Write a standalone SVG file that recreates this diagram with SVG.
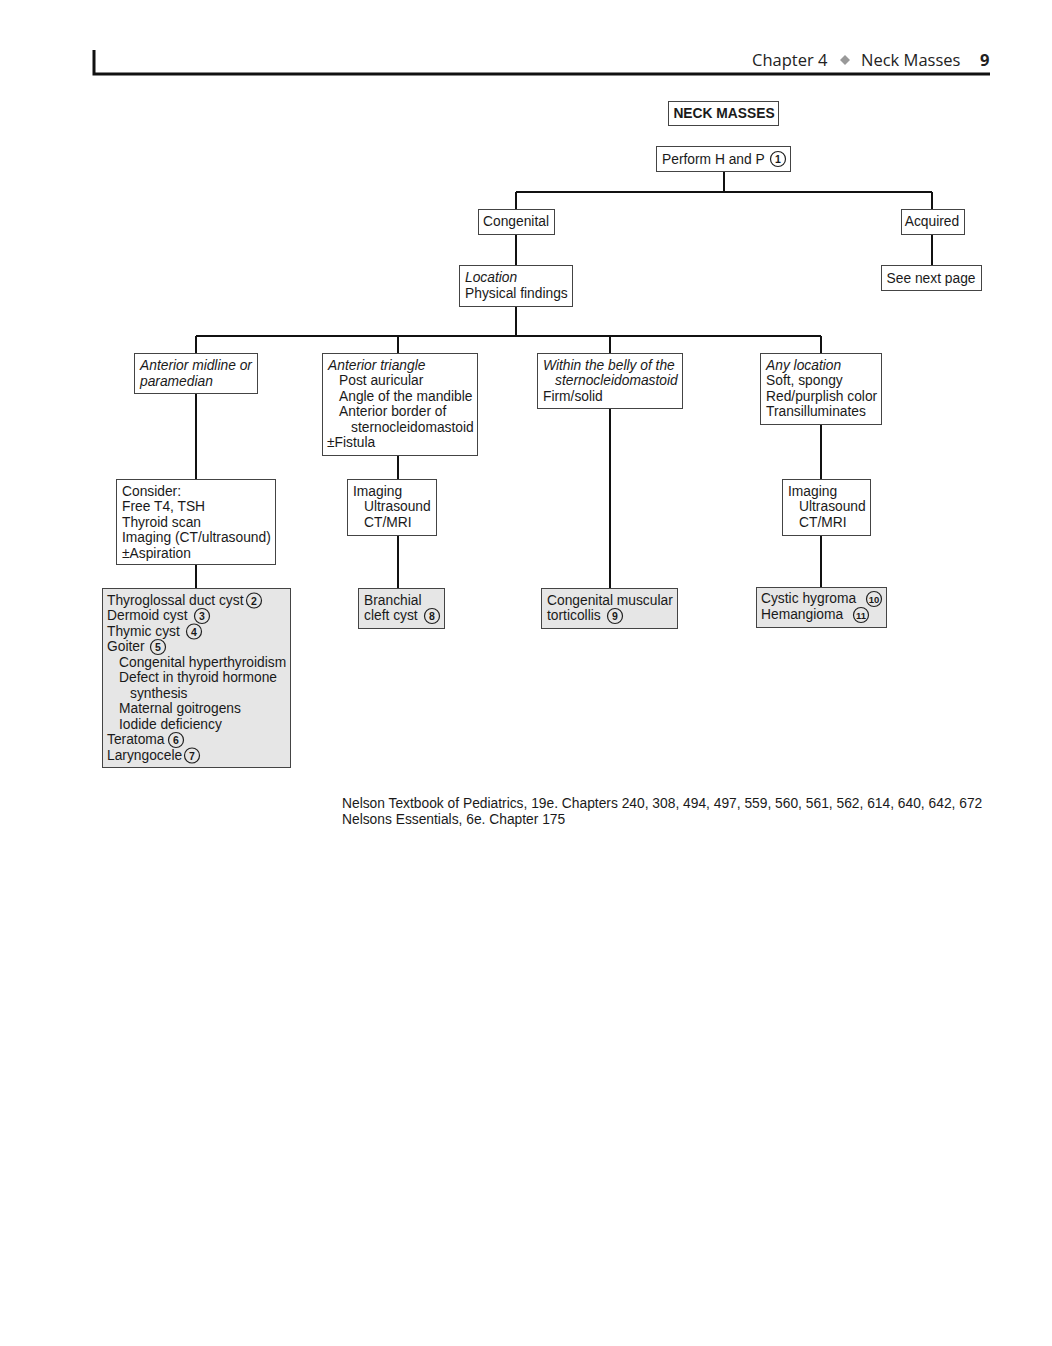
<svg xmlns="http://www.w3.org/2000/svg" width="1052" height="1346" viewBox="0 0 1052 1346">
<style>
text{font-family:"Liberation Sans",Arial,sans-serif;font-size:13.8px;fill:#1a1a1a}
.i{font-style:italic}
.b{font-weight:bold}
.box{fill:#fff;stroke:#444;stroke-width:1}
.gbox{fill:#e6e6e6;stroke:#444;stroke-width:1}
.ln{fill:none;stroke:#111;stroke-width:2}
.c{fill:none;stroke:#222;stroke-width:1.2}
.cn{font-size:10.5px;font-weight:bold;text-anchor:middle}
.hd{font-family:"Open Sans","DejaVu Sans",sans-serif;font-size:16.5px;fill:#222}
</style>
<rect width="1052" height="1346" fill="#fff"/>
<g id="header">
<path d="M94 50V74H990" fill="none" stroke="#111" stroke-width="3"/>
<text class="hd" x="752" y="66">Chapter 4</text>
<path d="M845 55l5 5-5 5-5-5z" fill="#999"/>
<text class="hd" x="861" y="66">Neck Masses</text>
<text class="hd b" x="980" y="66">9</text>
</g>
<g id="connectors">
<path class="ln" d="M724 172V192M516 192H932M516 192V209M932 192V209M516 234V265M932 234V265M516 306V336M196 336H821M196 336V353M398 336V353M610 336V353M821 336V353M196 393V479M196 564V588M398 455V479M398 535V588M610 408V588M821 424V479M821 535V587"/>
</g>
<g id="n-neck-masses">
<rect class="box" x="668.5" y="101.5" width="110" height="24"/>
<text class="b" x="724" y="118" text-anchor="middle">NECK MASSES</text>
</g>
<g id="n-perform">
<rect class="box" x="656.5" y="146.5" width="134" height="25"/>
<text x="662" y="164">Perform H and P</text>
<circle class="c" cx="778" cy="159" r="7.5"/><text class="cn" x="778" y="163">1</text>
</g>
<g id="n-congenital">
<rect class="box" x="478.5" y="209.5" width="76" height="25"/>
<text x="516" y="226" text-anchor="middle">Congenital</text>
</g>
<g id="n-acquired">
<rect class="box" x="901.5" y="209.5" width="63" height="25"/>
<text x="932" y="226" text-anchor="middle">Acquired</text>
</g>
<g id="n-location">
<rect class="box" x="459.5" y="265.5" width="113" height="41"/>
<text class="i" x="465" y="282">Location</text>
<text x="465" y="298">Physical findings</text>
</g>
<g id="n-see-next">
<rect class="box" x="881.5" y="265.5" width="100" height="25"/>
<text x="931" y="283" text-anchor="middle">See next page</text>
</g>
<g id="n-anterior-midline">
<rect class="box" x="134.5" y="353.5" width="123" height="40"/>
<text class="i" x="140" y="370">Anterior midline or</text>
<text class="i" x="140" y="386">paramedian</text>
</g>
<g id="n-anterior-triangle">
<rect class="box" x="322.5" y="353.5" width="155" height="102"/>
<text class="i" x="328" y="370">Anterior triangle</text>
<text x="339" y="385">Post auricular</text>
<text x="339" y="401">Angle of the mandible</text>
<text x="339" y="416">Anterior border of</text>
<text x="351" y="432">sternocleidomastoid</text>
<text x="327" y="447">±Fistula</text>
</g>
<g id="n-belly">
<rect class="box" x="537.5" y="353.5" width="145" height="55"/>
<text class="i" x="543" y="370">Within the belly of the</text>
<text class="i" x="555" y="385">sternocleidomastoid</text>
<text x="543" y="401">Firm/solid</text>
</g>
<g id="n-any-location">
<rect class="box" x="760.5" y="353.5" width="121" height="71"/>
<text class="i" x="766" y="370">Any location</text>
<text x="766" y="385">Soft, spongy</text>
<text x="766" y="401">Red/purplish color</text>
<text x="766" y="416">Transilluminates</text>
</g>
<g id="n-consider">
<rect class="box" x="116.5" y="479.5" width="159" height="85"/>
<text x="122" y="496">Consider:</text>
<text x="122" y="511">Free T4, TSH</text>
<text x="122" y="527">Thyroid scan</text>
<text x="122" y="542">Imaging (CT/ultrasound)</text>
<text x="122" y="558">±Aspiration</text>
</g>
<g id="n-imaging-1">
<rect class="box" x="347.5" y="479.5" width="89" height="56"/>
<text x="353" y="496">Imaging</text>
<text x="364" y="511">Ultrasound</text>
<text x="364" y="527">CT/MRI</text>
</g>
<g id="n-imaging-2">
<rect class="box" x="782.5" y="479.5" width="88" height="56"/>
<text x="788" y="496">Imaging</text>
<text x="799" y="511">Ultrasound</text>
<text x="799" y="527">CT/MRI</text>
</g>
<g id="n-midline-dx">
<rect class="gbox" x="102.5" y="588.5" width="188" height="179"/>
<text x="107" y="605">Thyroglossal duct cyst</text>
<circle class="c" cx="254" cy="600.5" r="7.5"/><text class="cn" x="254" y="604.5">2</text>
<text x="107" y="620">Dermoid cyst</text>
<circle class="c" cx="202" cy="616" r="7.5"/><text class="cn" x="202" y="620">3</text>
<text x="107" y="636">Thymic cyst</text>
<circle class="c" cx="194" cy="631.5" r="7.5"/><text class="cn" x="194" y="635.5">4</text>
<text x="107" y="651">Goiter</text>
<circle class="c" cx="158" cy="647" r="7.5"/><text class="cn" x="158" y="651">5</text>
<text x="119" y="667">Congenital hyperthyroidism</text>
<text x="119" y="682">Defect in thyroid hormone</text>
<text x="130" y="698">synthesis</text>
<text x="119" y="713">Maternal goitrogens</text>
<text x="119" y="729">Iodide deficiency</text>
<text x="107" y="744">Teratoma</text>
<circle class="c" cx="176" cy="740" r="7.5"/><text class="cn" x="176" y="744">6</text>
<text x="107" y="760">Laryngocele</text>
<circle class="c" cx="192" cy="755.5" r="7.5"/><text class="cn" x="192" y="759.5">7</text>
</g>
<g id="n-branchial">
<rect class="gbox" x="358.5" y="588.5" width="86" height="40"/>
<text x="364" y="605">Branchial</text>
<text x="364" y="620">cleft cyst</text>
<circle class="c" cx="432" cy="616" r="7.5"/><text class="cn" x="432" y="620">8</text>
</g>
<g id="n-torticollis">
<rect class="gbox" x="541.5" y="588.5" width="136" height="40"/>
<text x="547" y="605">Congenital muscular</text>
<text x="547" y="620">torticollis</text>
<circle class="c" cx="615" cy="616" r="7.5"/><text class="cn" x="615" y="620">9</text>
</g>
<g id="n-hygroma">
<rect class="gbox" x="756.5" y="587.5" width="130" height="40"/>
<text x="761" y="603">Cystic hygroma</text>
<circle class="c" cx="874" cy="599" r="7.5"/><text class="cn" x="874" y="603" style="font-size:9.5px">10</text>
<text x="761" y="619">Hemangioma</text>
<circle class="c" cx="861" cy="615" r="7.5"/><text class="cn" x="861" y="619" style="font-size:9.5px">11</text>
</g>
<g id="footer">
<text x="342" y="808">Nelson Textbook of Pediatrics, 19e. Chapters 240, 308, 494, 497, 559, 560, 561, 562, 614, 640, 642, 672</text>
<text x="342" y="824">Nelsons Essentials, 6e. Chapter 175</text>
</g>
</svg>
